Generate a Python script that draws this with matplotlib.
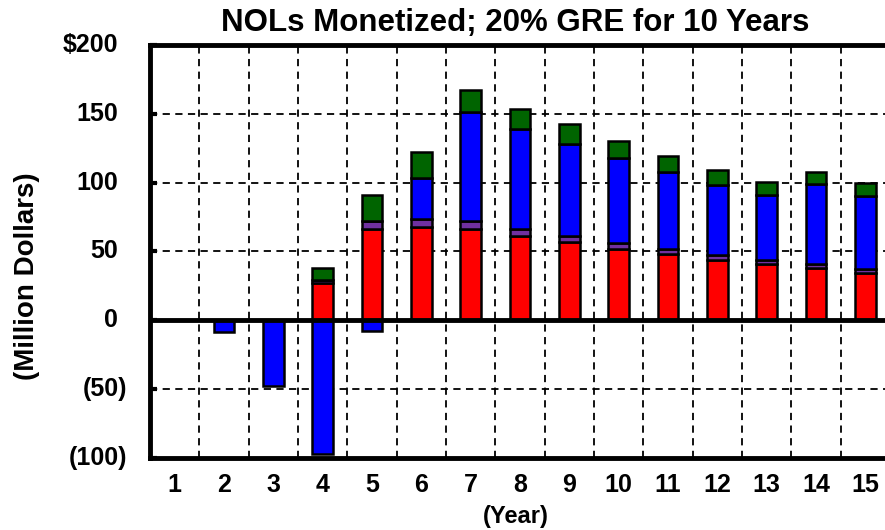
import matplotlib
matplotlib.use("Agg")
import matplotlib.pyplot as plt
import matplotlib.transforms as mtransforms
import numpy as np

plt.rcParams['font.family'] = ['Liberation Sans', 'DejaVu Sans']
plt.rcParams['font.weight'] = 'bold'

years = list(range(1, 16))
red = [0, 0, 0, 27, 66, 68, 66, 61, 56.5, 52, 48, 44, 41, 37.5, 34.5]
purple = [0, 0, 0, 2, 6, 5.5, 6, 5, 4.5, 4, 4, 3.5, 3, 3, 2.5]
blue = [0, -8.5, -48, -97.5, -8, 30, 79, 73, 67, 61.5, 55.5, 51, 47, 58.5, 53.5]
green = [0, 0, 0, 9, 19, 18.5, 16, 14.5, 14.5, 12.5, 11.5, 10.5, 9.5, 9, 9]
yticks = [-100, -50, 0, 50, 100, 150, 200]
yticklabels = ['(100)', '(50)', '0', '50', '100', '150', '$200']
title = 'NOLs Monetized; 20% GRE for 10 Years'

fig = plt.figure(figsize=(8.85, 5.3), dpi=100)
ax = fig.add_axes([150/885, 72.5/530, 740/885, 412.5/530])

x = np.array(years)
r = np.array(red); p = np.array(purple); b = np.array(blue); g = np.array(green)
w = 0.42
ekw = dict(edgecolor='black', linewidth=1.8, zorder=3)
ax.bar(x, r, w, color='#FF0000', **ekw)
ax.bar(x, p, w, bottom=r, color='#7030A0', **ekw)
bpos = np.where(b > 0, b, 0)
bneg = np.where(b < 0, b, 0)
ax.bar(x, bpos, w, bottom=r + p, color='#0000FF', **ekw)
mask = b < 0
ax.bar(x[mask], bneg[mask], w, color='#0000FF', **ekw)
ax.bar(x, g, w, bottom=r + p + bpos, color='#006400', **ekw)

ax.set_xlim(0.5, 15.5)
ax.set_ylim(-100, 200)
ax.set_yticks(yticks)
ax.set_yticklabels([''] * len(yticks))
ax.set_xticks(years)
ax.set_xticklabels([str(v) for v in years])
ax.tick_params(axis='y', direction='in', length=5, width=3, pad=0)
ax.tick_params(axis='x', length=0, labelsize=18, pad=11)

# y tick labels in accounting style (positives padded by width of ')')
for yv, lab in zip(yticks, yticklabels):
    off = -23 if lab.endswith(')') else -32
    tr = mtransforms.blended_transform_factory(ax.transAxes, ax.transData) + \
        mtransforms.ScaledTranslation(off / 100, 0, fig.dpi_scale_trans)
    ax.text(0, yv, lab, transform=tr, ha='right', va='center', fontsize=18,
            fontweight='bold', clip_on=False)

for yy in [-50, 50, 100, 150]:
    ax.axhline(yy, color='black', lw=1.3, ls=(0, (4, 3)), zorder=1)
for xx in np.arange(1.5, 15.5, 1):
    ax.axvline(xx, color='black', lw=1.3, ls=(0, (4, 3)), zorder=1)
ax.axhline(0, color='black', lw=3.5, zorder=4)

for s in ax.spines.values():
    s.set_linewidth(3.5)
ax.spines['right'].set_visible(False)

fig.text(515/885, 1 - 23/530, title, fontsize=22.5, fontweight='bold',
         ha='center', va='center')
fig.text(27/885, 1 - 276/530, '(Million Dollars)', fontsize=20, fontweight='bold',
         rotation=90, ha='center', va='center')
fig.text(516/885, 1 - 517/530, '(Year)', fontsize=17, fontweight='bold',
         ha='center', va='center')

fig.savefig('out.png', dpi=100)
